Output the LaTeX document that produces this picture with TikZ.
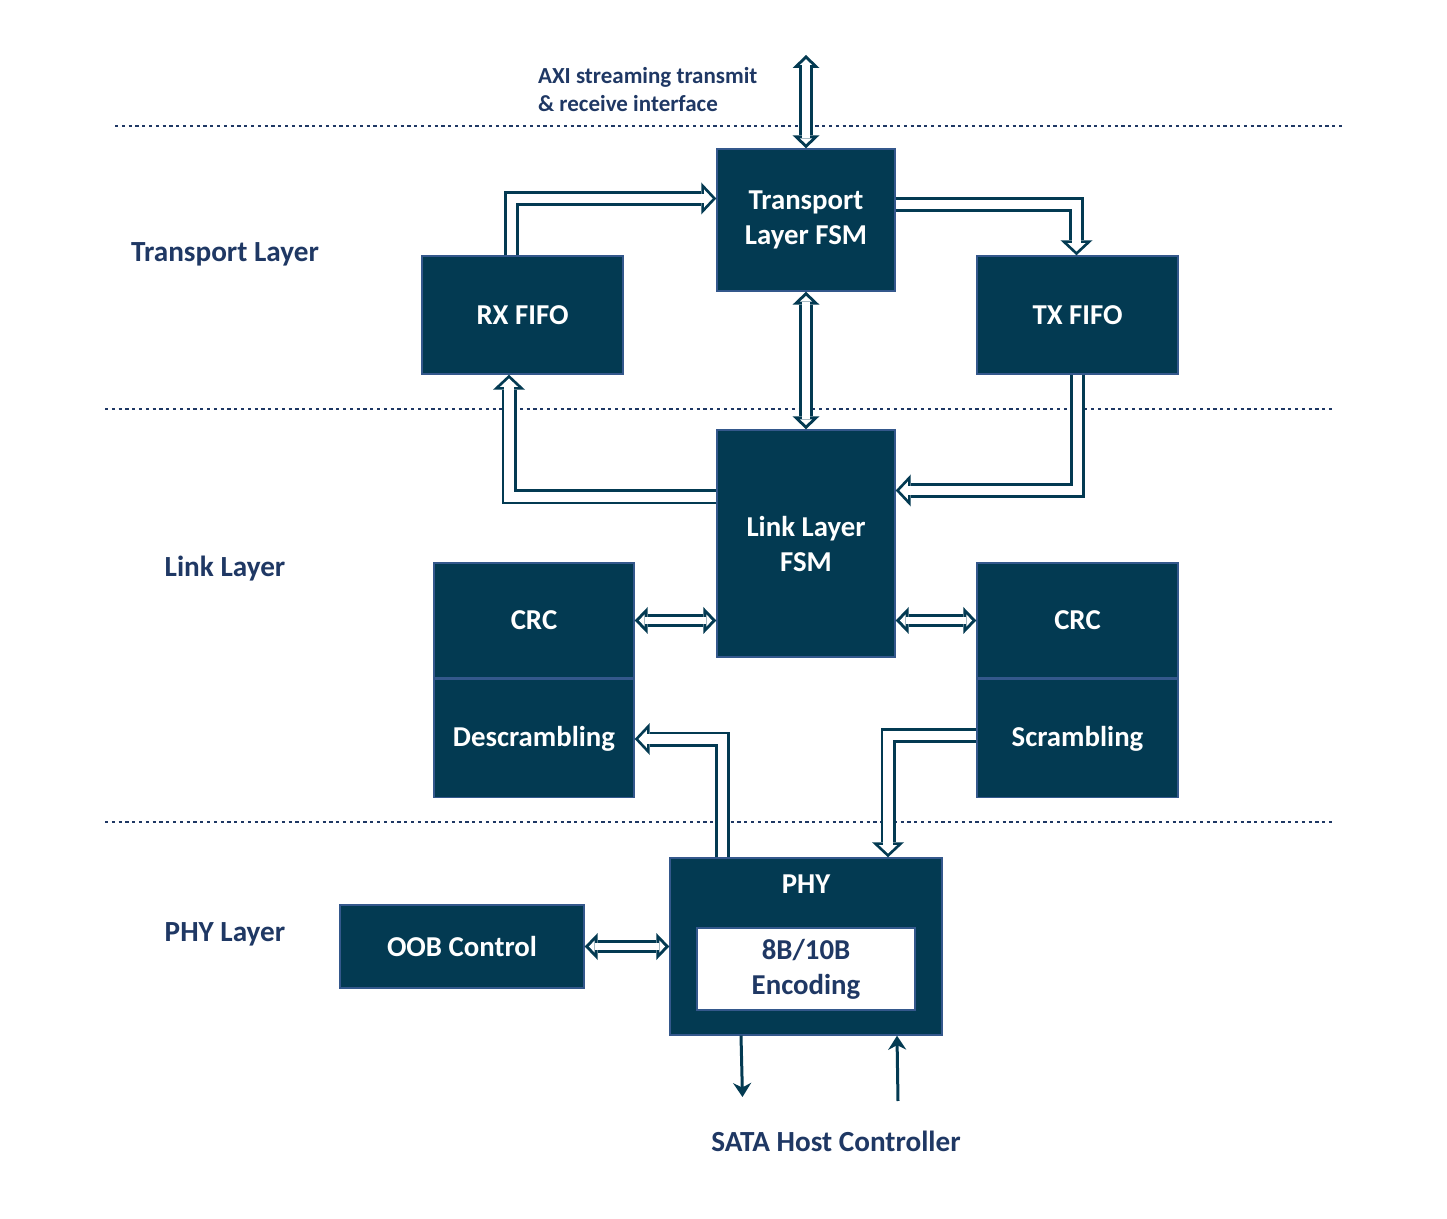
\documentclass[tikz,border=0pt]{standalone}
\usepackage{fontspec}
\setmainfont{Carlito}
\usepackage{tikz}
\usetikzlibrary{arrows.meta,positioning,calc}
\definecolor{boxteal}{RGB}{3,58,82}
\definecolor{boxedge}{RGB}{52,88,140}
\definecolor{labelnavy}{RGB}{31,56,100}
\tikzstyle{blk}=[rectangle,draw=boxedge,fill=boxteal,line width=0.7pt,text=white,
                 align=center,font=\bfseries\fontsize{14.4}{17.5}\selectfont,inner sep=0pt]
\tikzstyle{layerlbl}=[text=labelnavy,align=center,font=\bfseries\fontsize{14.6}{17}\selectfont]
\tikzstyle{sepline}=[draw=labelnavy,line width=1.4pt,dash pattern=on 1.6pt off 1.8pt]
\tikzstyle{hollowarrow}=[draw=white,line width=4.75pt,shorten >=1.9pt,
                 -{Triangle[length=4.24pt,width=9.04pt,line width=0pt]},
                 preaction={draw=boxteal,line width=7.5pt,shorten >=0pt,
                 -{Triangle[length=7.5pt,width=16pt,line width=0pt]}}]
\tikzstyle{hollowboth}=[draw=white,line width=3.75pt,shorten >=2.08pt,shorten <=2.08pt,
                 {Triangle[length=2.92pt,width=6.06pt,line width=0pt]}-{Triangle[length=2.92pt,width=6.06pt,line width=0pt]},
                 preaction={draw=boxteal,line width=6.75pt,shorten >=0pt,shorten <=0pt,
                 {Triangle[length=6.5pt,width=13.5pt,line width=0pt]}-{Triangle[length=6.5pt,width=13.5pt,line width=0pt]}}]
\tikzstyle{thinarrow}=[-{Stealth[length=7pt,width=9pt]},line width=1.5pt,draw=boxteal]

\begin{document}
\begin{tikzpicture}[x=0.5pt,y=-0.5pt]
      \useasboundingbox (0,0) rectangle (1447,1219);

      % layer separators
      \draw[sepline] (115,126) -- (1343,126);
      \draw[sepline] (105,409) -- (1333,409);
      \draw[sepline] (105,822) -- (1333,822);

      \node[layerlbl] (ltrans) at (225,254) {Transport Layer};
      \node[layerlbl] (llink) at (225,569) {Link Layer};
      \node[layerlbl] (lphy) at (225,934) {PHY Layer};
      \node[layerlbl,align=left,anchor=west,font=\bfseries\fontsize{11.5}{14}\selectfont] (axi) at (531,90)
            {AXI streaming transmit\\\& receive interface};
      \node[layerlbl] (sata) at (836,1141) {SATA Host Controller};

      % transport layer
      \node[blk,minimum width=89pt,minimum height=71pt] (tfsm) at (806,220) {Transport\\Layer FSM};
      \node[blk,minimum width=100.5pt,minimum height=59pt] (rxf) at (522.5,315) {RX FIFO};
      \node[blk,minimum width=100.5pt,minimum height=59pt] (txf) at (1077.5,315) {TX FIFO};

      % link layer
      \node[blk,minimum width=89pt,minimum height=113.5pt] (lfsm) at (806,543.5) {Link Layer\\FSM};
      \node[blk,minimum width=100pt,minimum height=57.5pt] (crcl) at (534,620.5) {CRC};
      \node[blk,minimum width=100pt,minimum height=59pt,below=0pt of crcl] (descr) {Descrambling};
      \node[blk,minimum width=100.5pt,minimum height=57.5pt] (crcr) at (1077.5,620.5) {CRC};
      \node[blk,minimum width=100.5pt,minimum height=59pt,below=0pt of crcr] (scr) {Scrambling};

      % phy layer
      \node[blk,minimum width=136pt,minimum height=88.5pt] (phy) at (806,946.5) {};
      \node[blk,draw=none,fill=none] (phylbl) at (806,884) {PHY};
      \node[blk,fill=white,text=labelnavy,minimum width=109pt,minimum height=41pt] (enc) at (806,969) {8B/10B\\Encoding};
      \node[blk,minimum width=122pt,minimum height=41.5pt] (oob) at (462,946.5) {OOB Control};

      % bend points
      \coordinate (k1) at (511.5,198.5);
      \coordinate (k2) at (1076.5,204.5);
      \coordinate (k3) at (1077.5,490.5);
      \coordinate (k4) at (509,497);
      \coordinate (k5) at (722.5,739);
      \coordinate (k6) at (888,735.5);
      \coordinate (axitop) at (806,55);
      \coordinate (hostout) at (742.5,1097);
      \coordinate (hostin) at (898,1101);

      \draw[hollowarrow] (rxf.north -| k1) |- (tfsm.west |- k1);
      \draw[hollowarrow] (tfsm.east |- k2) -| (txf.north -| k2);
      \draw[hollowarrow] (txf.south -| k3) |- (lfsm.east |- k3);
      \draw[hollowarrow] (lfsm.west |- k4) -| (rxf.south -| k4);
      \draw[hollowarrow] (phy.north -| k5) |- (descr.east |- k5);
      \draw[hollowarrow] (scr.west |- k6) -| (phy.north -| k6);

      \draw[hollowboth] (axitop) -- (tfsm.north);
      \draw[hollowboth] (tfsm.south) -- (lfsm.north);
      \draw[hollowboth] (crcl.east) -- (lfsm.west |- crcl.east);
      \draw[hollowboth] (lfsm.east |- crcr.west) -- (crcr.west);
      \draw[hollowboth] (oob.east) -- (phy.west |- oob.east);

      \draw[thinarrow] ($(phy.south)+(-65,0)$) -- (hostout);
      \draw[thinarrow] (hostin) -- ($(phy.south)+(91,0)$);
    \end{tikzpicture}
\end{document}
